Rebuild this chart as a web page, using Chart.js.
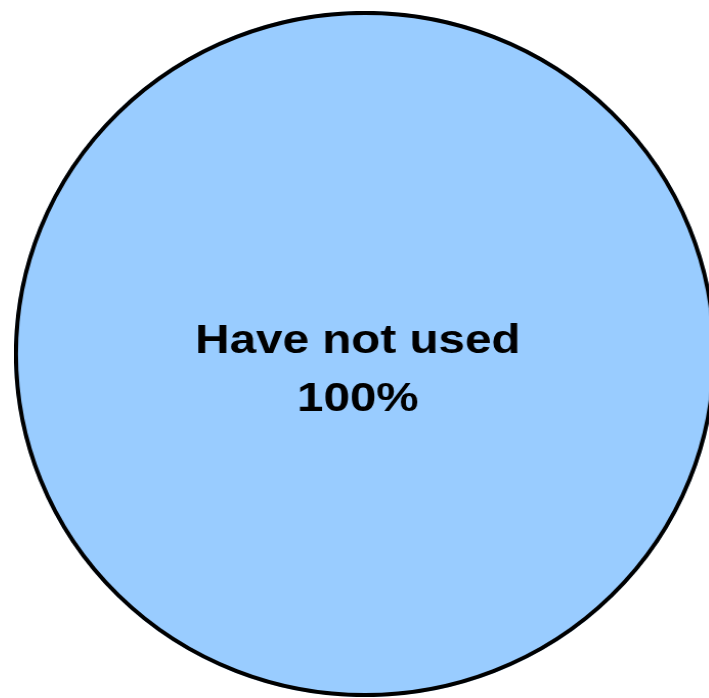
<!DOCTYPE html>
<html>
<head>
<meta charset="utf-8">
<script src="https://cdn.jsdelivr.net/npm/chart.js@4"></script>
<style>
  html, body { margin: 0; padding: 0; background: #ffffff; overflow: hidden; width: 709px; height: 698px; }
</style>
</head>
<body>
<canvas id="c" width="686" height="686" style="position:absolute; left:14px; top:11px; width:702px; height:686px;"></canvas>
<script>
const categories = ["Have not used"];
const values = [100];
const sliceColors = ["#99CCFF"];

const outlinePlugin = {
  id: 'sliceOutline',
  afterDatasetsDraw(chart) {
    const meta = chart.getDatasetMeta(0);
    const ctx = chart.ctx;
    meta.data.forEach(arc => {
      ctx.save();
      ctx.beginPath();
      ctx.arc(arc.x, arc.y, arc.outerRadius - 1.9, 0, Math.PI * 2);
      ctx.lineWidth = 4;
      ctx.strokeStyle = '#000000';
      ctx.stroke();
      ctx.restore();
    });
  }
};

const labelPlugin = {
  id: 'sliceLabel',
  afterDatasetsDraw(chart) {
    const meta = chart.getDatasetMeta(0);
    const arc = meta.data[0];
    if (!arc) return;
    const total = values.reduce((a, b) => a + b, 0);
    const pct = Math.round(values[0] / total * 100) + '%';
    const ctx = chart.ctx;
    ctx.save();
    ctx.translate(arc.x - 7, arc.y);
    ctx.scale(1.134, 1);
    ctx.font = 'bold 41px "Liberation Sans", Arial, sans-serif';
    ctx.fillStyle = '#000000';
    ctx.textAlign = 'center';
    ctx.textBaseline = 'alphabetic';
    ctx.fillText(categories[0], 0, -1);
    ctx.fillText(pct, 0, 57);
    ctx.restore();
  }
};

new Chart(document.getElementById('c'), {
  type: 'pie',
  data: {
    labels: categories,
    datasets: [{
      data: values,
      backgroundColor: sliceColors,
      borderWidth: 0,
      hoverOffset: 0
    }]
  },
  options: {
    responsive: false,
    animation: false,
    layout: { padding: 0 },
    plugins: {
      legend: { display: false },
      tooltip: { enabled: false }
    }
  },
  plugins: [outlinePlugin, labelPlugin]
});
</script>
</body>
</html>
